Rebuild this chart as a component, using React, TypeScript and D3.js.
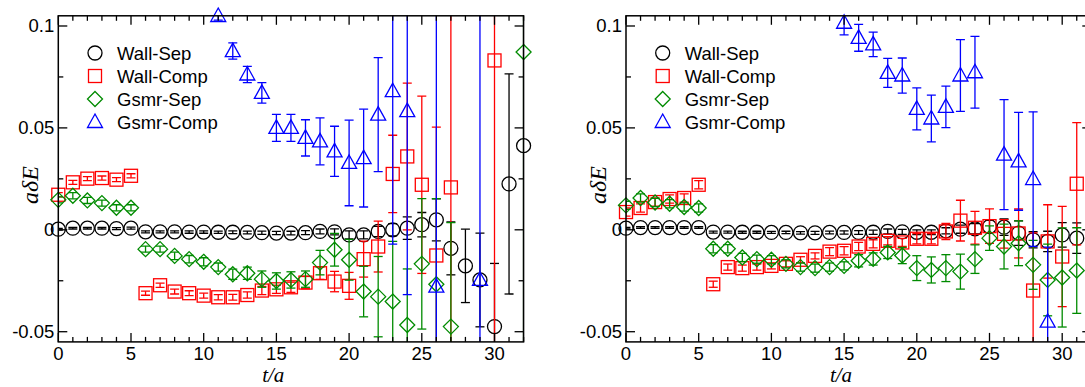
import React from "react";
import * as d3 from "d3";

// t/a = 0..32 ; null = point not shown
const T = d3.range(0, 33);
const X_TICKS = [0, 5, 10, 15, 20, 25, 30];
const Y_TICKS = [0.1, 0.05, 0, -0.05];
const Y_TICK_LABELS = ["0.1", "0.05", "0", "-0.05"];
const SERIES_NAMES = ["Wall-Sep", "Wall-Comp", "Gsmr-Sep", "Gsmr-Comp"];

// ---- left panel ----
const leftWallSep = [0.0003, 0.0008, 0.0008, 0.0008, 0.0006, 0.0008, -0.001, -0.001, -0.001, -0.0011, -0.0011, -0.0012, -0.0012, -0.0013, -0.0014, -0.0016, -0.0016, -0.0014, -0.0008, -0.001, -0.0025, -0.0025, -0.0008, 0.0, 0.0008, 0.0025, 0.0049, -0.0091, -0.0177, -0.0246, -0.0475, 0.0225, 0.0413];
const leftWallSepErr = [0.0004, 0.0004, 0.0004, 0.0004, 0.0005, 0.0005, 0.0005, 0.0005, 0.0005, 0.0006, 0.0006, 0.0006, 0.0007, 0.0007, 0.0008, 0.0008, 0.0009, 0.001, 0.0012, 0.0015, 0.002, 0.002, 0.0025, 0.003, 0.0055, 0.006, 0.0103, 0.013, 0.018, 0.023, 0.031, 0.054, 0.2];
const leftWallComp = [0.0172, 0.0233, 0.0251, 0.0254, 0.0246, 0.0265, -0.0311, -0.0272, -0.0303, -0.0311, -0.0323, -0.0331, -0.0331, -0.032, -0.0298, -0.0292, -0.0282, -0.0259, -0.0213, -0.0254, -0.0275, -0.0144, -0.0082, 0.0274, 0.036, 0.0221, -0.0126, 0.0208, null, null, 0.0831, null, null];
const leftWallCompErr = [0.001, 0.001, 0.001, 0.001, 0.001, 0.001, 0.001, 0.001, 0.0012, 0.0012, 0.0012, 0.0013, 0.0014, 0.0015, 0.002, 0.002, 0.0025, 0.003, 0.003, 0.005, 0.0066, 0.0088, 0.0125, 0.019, 0.036, 0.0435, 0.063, 0.2, null, null, 0.3, null, null];
const leftGsmrSep = [0.0147, 0.0167, 0.0144, 0.0131, 0.0108, 0.0108, -0.0095, -0.0095, -0.0128, -0.0144, -0.0157, -0.0183, -0.0218, -0.0213, -0.0242, -0.0251, -0.0246, -0.0242, -0.0161, -0.0098, -0.0147, -0.0303, -0.0328, -0.0352, -0.0467, -0.0167, -0.0267, -0.0475, null, null, null, null, 0.0872];
const leftGsmrSepErr = [0.0015, 0.0015, 0.0015, 0.0015, 0.0015, 0.0015, 0.0015, 0.0015, 0.0018, 0.0018, 0.002, 0.002, 0.0025, 0.003, 0.004, 0.004, 0.004, 0.004, 0.006, 0.008, 0.01, 0.0124, 0.0197, 0.0295, 0.0275, 0.032, 0.042, 0.051, null, null, null, null, 0.2];
const leftGsmrComp = [null, null, null, null, null, null, null, null, null, null, null, 0.1049, 0.0877, 0.0762, 0.0672, 0.05, 0.05, 0.0451, 0.0434, 0.0385, 0.0328, 0.0352, 0.0565, 0.068, 0.0582, null, -0.0279, null, null, -0.0246, null, null, null];
const leftGsmrCompErr = [null, null, null, null, null, null, null, null, null, null, null, 0.002, 0.004, 0.004, 0.005, 0.0066, 0.0066, 0.0089, 0.0115, 0.0123, 0.021, 0.024, 0.028, 0.075, 0.09, null, 0.3, null, null, 0.3, null, null, null];

// ---- right panel ----
const rightWallSep = [0.0008, 0.0011, 0.0011, 0.0011, 0.0011, 0.0011, -0.0011, -0.0011, -0.0012, -0.0012, -0.0013, -0.0013, -0.0015, -0.0015, -0.0013, -0.0013, -0.0013, -0.0012, -0.0008, -0.001, -0.0012, -0.0012, -0.0005, 0.0003, 0.0005, 0.0016, 0.0013, -0.0016, -0.0049, -0.0057, -0.0025, -0.0041, null];
const rightWallSepErr = [0.0004, 0.0004, 0.0004, 0.0004, 0.0004, 0.0004, 0.0005, 0.0005, 0.0005, 0.0005, 0.0005, 0.0006, 0.0006, 0.0007, 0.0007, 0.0008, 0.0009, 0.001, 0.0012, 0.0012, 0.0012, 0.0012, 0.0015, 0.002, 0.0025, 0.003, 0.004, 0.006, 0.004, 0.005, 0.006, 0.0075, null];
const rightWallComp = [0.0087, 0.0107, 0.0136, 0.0151, 0.0156, 0.0221, -0.0267, -0.0183, -0.0188, -0.0183, -0.0177, -0.0167, -0.0147, -0.0128, -0.0107, -0.0103, -0.0082, -0.0069, -0.0054, -0.0062, -0.0044, -0.0044, -0.0008, 0.0045, 0.001, 0.0018, -0.002, -0.0018, -0.0298, -0.0057, -0.0131, 0.0226, null];
const rightWallCompErr = [0.002, 0.002, 0.002, 0.002, 0.002, 0.002, 0.0015, 0.0015, 0.0015, 0.0015, 0.0015, 0.0015, 0.0015, 0.0015, 0.002, 0.002, 0.002, 0.002, 0.002, 0.002, 0.0025, 0.0025, 0.004, 0.01, 0.008, 0.0085, 0.007, 0.012, 0.0283, 0.018, 0.0246, 0.03, null];
const rightGsmrSep = [0.012, 0.0156, 0.0134, 0.0128, 0.0112, 0.0107, -0.0093, -0.0093, -0.0136, -0.0144, -0.0147, -0.0167, -0.0183, -0.0188, -0.0183, -0.0177, -0.0152, -0.0143, -0.0111, -0.0126, -0.0188, -0.0197, -0.0188, -0.0205, -0.0144, -0.0041, -0.0082, -0.0066, -0.0172, -0.0246, -0.0234, -0.02, null];
const rightGsmrSepErr = [0.002, 0.002, 0.002, 0.002, 0.002, 0.002, 0.002, 0.002, 0.002, 0.002, 0.002, 0.002, 0.002, 0.002, 0.002, 0.002, 0.003, 0.003, 0.003, 0.004, 0.0061, 0.0064, 0.0066, 0.0086, 0.007, 0.006, 0.011, 0.011, 0.012, 0.0176, 0.0243, 0.021, null];
const rightGsmrComp = [null, null, null, null, null, null, null, null, null, null, null, null, null, null, null, 0.1016, 0.0942, 0.091, 0.077, 0.0757, 0.0593, 0.0546, 0.0603, 0.0757, 0.0773, null, 0.0369, 0.0336, 0.0249, -0.0451, null, null, null];
const rightGsmrCompErr = [null, null, null, null, null, null, null, null, null, null, null, null, null, null, null, 0.006, 0.0066, 0.006, 0.0071, 0.0086, 0.0103, 0.0115, 0.0102, 0.0176, 0.0176, null, 0.027, 0.024, 0.033, 0.0366, null, null, null];

const COLORS = ["#000000", "#ff0000", "#008b00", "#0000ff"];
const SHAPES = ["circle", "square", "diamond", "triangle"];

const panels = [
  {
    id: "L",
    x0: 58.3,
    sets: [
      [leftWallSep, leftWallSepErr],
      [leftWallComp, leftWallCompErr],
      [leftGsmrSep, leftGsmrSepErr],
      [leftGsmrComp, leftGsmrCompErr],
    ],
  },
  {
    id: "R",
    x0: 626,
    sets: [
      [rightWallSep, rightWallSepErr],
      [rightWallComp, rightWallCompErr],
      [rightGsmrSep, rightGsmrSepErr],
      [rightGsmrComp, rightGsmrCompErr],
    ],
  },
];

const W = 1085;
const H = 387;
const PX_PER_T = 14.54;
const yTop = 15.8;
const yBot = 341.9;
const SANS = "'Liberation Sans', Arial, Helvetica, sans-serif";
const SERIF = "'Liberation Serif', 'Times New Roman', serif";

function Marker({ shape, x, y, color }) {
  const sw = 1.3;
  if (shape === "circle")
    return <circle cx={x} cy={y} r={7} fill="none" stroke={color} strokeWidth={sw} />;
  if (shape === "square")
    return <rect x={x - 6.5} y={y - 6.5} width={13} height={13} fill="none" stroke={color} strokeWidth={sw} />;
  if (shape === "diamond")
    return (
      <path d={`M${x},${y - 7.5}L${x + 7.5},${y}L${x},${y + 7.5}L${x - 7.5},${y}Z`} fill="none" stroke={color} strokeWidth={sw} />
    );
  return (
    <path d={`M${x},${y - 8}L${x + 7.5},${y + 5.5}L${x - 7.5},${y + 5.5}Z`} fill="none" stroke={color} strokeWidth={sw} />
  );
}

function Panel({ panel }) {
  const x = d3.scaleLinear().domain([0, 32]).range([panel.x0, panel.x0 + 32 * PX_PER_T]);
  const y = d3.scaleLinear().domain([-0.055, 0.105]).range([yBot, yTop]);
  const [xa, xb] = x.range();
  const clipId = `clip${panel.id}`;
  const minorX = d3.range(0, 33);
  const minorY = d3.range(-0.05, 0.1001, 0.025);
  const legendX = panel.x0 + 36.7;

  return (
    <g>
      <defs>
        <clipPath id={clipId}>
          <rect x={xa} y={yTop} width={xb - xa} height={yBot - yTop} />
        </clipPath>
      </defs>

      {/* error bars + symbols, set by set */}
      {panel.sets.map(([vals, errs], si) => {
        const color = COLORS[si];
        const pts = T.map((t) => ({ t, v: vals[t], e: errs[t] })).filter((d) => d.v !== null);
        return (
          <g key={si}>
            <g clipPath={`url(#${clipId})`} stroke={color} strokeWidth={1.3}>
              {pts.map((d) => {
                const cx = x(d.t);
                const y1 = y(d.v + d.e);
                const y2 = y(d.v - d.e);
                return (
                  <g key={d.t}>
                    <line x1={cx} x2={cx} y1={y1} y2={y2} />
                    <line x1={cx - 4.5} x2={cx + 4.5} y1={y1} y2={y1} />
                    <line x1={cx - 4.5} x2={cx + 4.5} y1={y2} y2={y2} />
                  </g>
                );
              })}
            </g>
            {pts.map((d) => (
              <Marker key={d.t} shape={SHAPES[si]} x={x(d.t)} y={y(d.v)} color={color} />
            ))}
          </g>
        );
      })}

      {/* frame */}
      <rect x={xa} y={yTop} width={xb - xa} height={yBot - yTop} fill="none" stroke="#000" strokeWidth={1.5} />

      {/* x ticks (bottom + top) */}
      {minorX.map((t) => {
        const len = t % 5 === 0 ? 9 : 5;
        return (
          <g key={t} stroke="#000" strokeWidth={1.3}>
            <line x1={x(t)} x2={x(t)} y1={yBot} y2={yBot - len} />
            <line x1={x(t)} x2={x(t)} y1={yTop} y2={yTop + len} />
          </g>
        );
      })}
      {/* y ticks (left + right) */}
      {minorY.map((v, i) => {
        const len = i % 2 === 0 ? 9 : 5;
        return (
          <g key={i} stroke="#000" strokeWidth={1.3}>
            <line x1={xa} x2={xa + len} y1={y(v)} y2={y(v)} />
            <line x1={xb} x2={xb - len} y1={y(v)} y2={y(v)} />
          </g>
        );
      })}

      {X_TICKS.map((t) => (
        <text key={t} x={x(t)} y={360} textAnchor="middle" fontFamily={SANS} fontSize={18.5}>
          {t}
        </text>
      ))}
      {Y_TICKS.map((v, i) => (
        <text key={i} x={xa - 4} y={y(v) + 6.5} textAnchor="end" fontFamily={SANS} fontSize={18.5}>
          {Y_TICK_LABELS[i]}
        </text>
      ))}

      {/* axis titles */}
      <text x={xa + 215} y={382} textAnchor="middle" fontFamily={SERIF} fontStyle="italic" fontSize={21}>
        t/a
      </text>
      <text
        transform={`translate(${xa - 20},185) rotate(-90)`}
        textAnchor="middle"
        fontFamily={SERIF}
        fontStyle="italic"
        fontSize={24}
      >
        aδE
      </text>

      {/* legend */}
      {SERIES_NAMES.map((name, i) => {
        const ly = 53 + i * 23;
        return (
          <g key={name}>
            <Marker shape={SHAPES[i]} x={legendX} y={ly} color={COLORS[i]} />
            <text x={legendX + 22} y={ly + 6.5} fontFamily={SANS} fontSize={18.5}>
              {name}
            </text>
          </g>
        );
      })}
    </g>
  );
}

export default function App() {
  return (
    <svg
      width={W}
      height={H}
      style={{ position: "absolute", left: 0, top: 0, background: "#fff" }}
    >
      {panels.map((p) => (
        <Panel key={p.id} panel={p} />
      ))}
    </svg>
  );
}
